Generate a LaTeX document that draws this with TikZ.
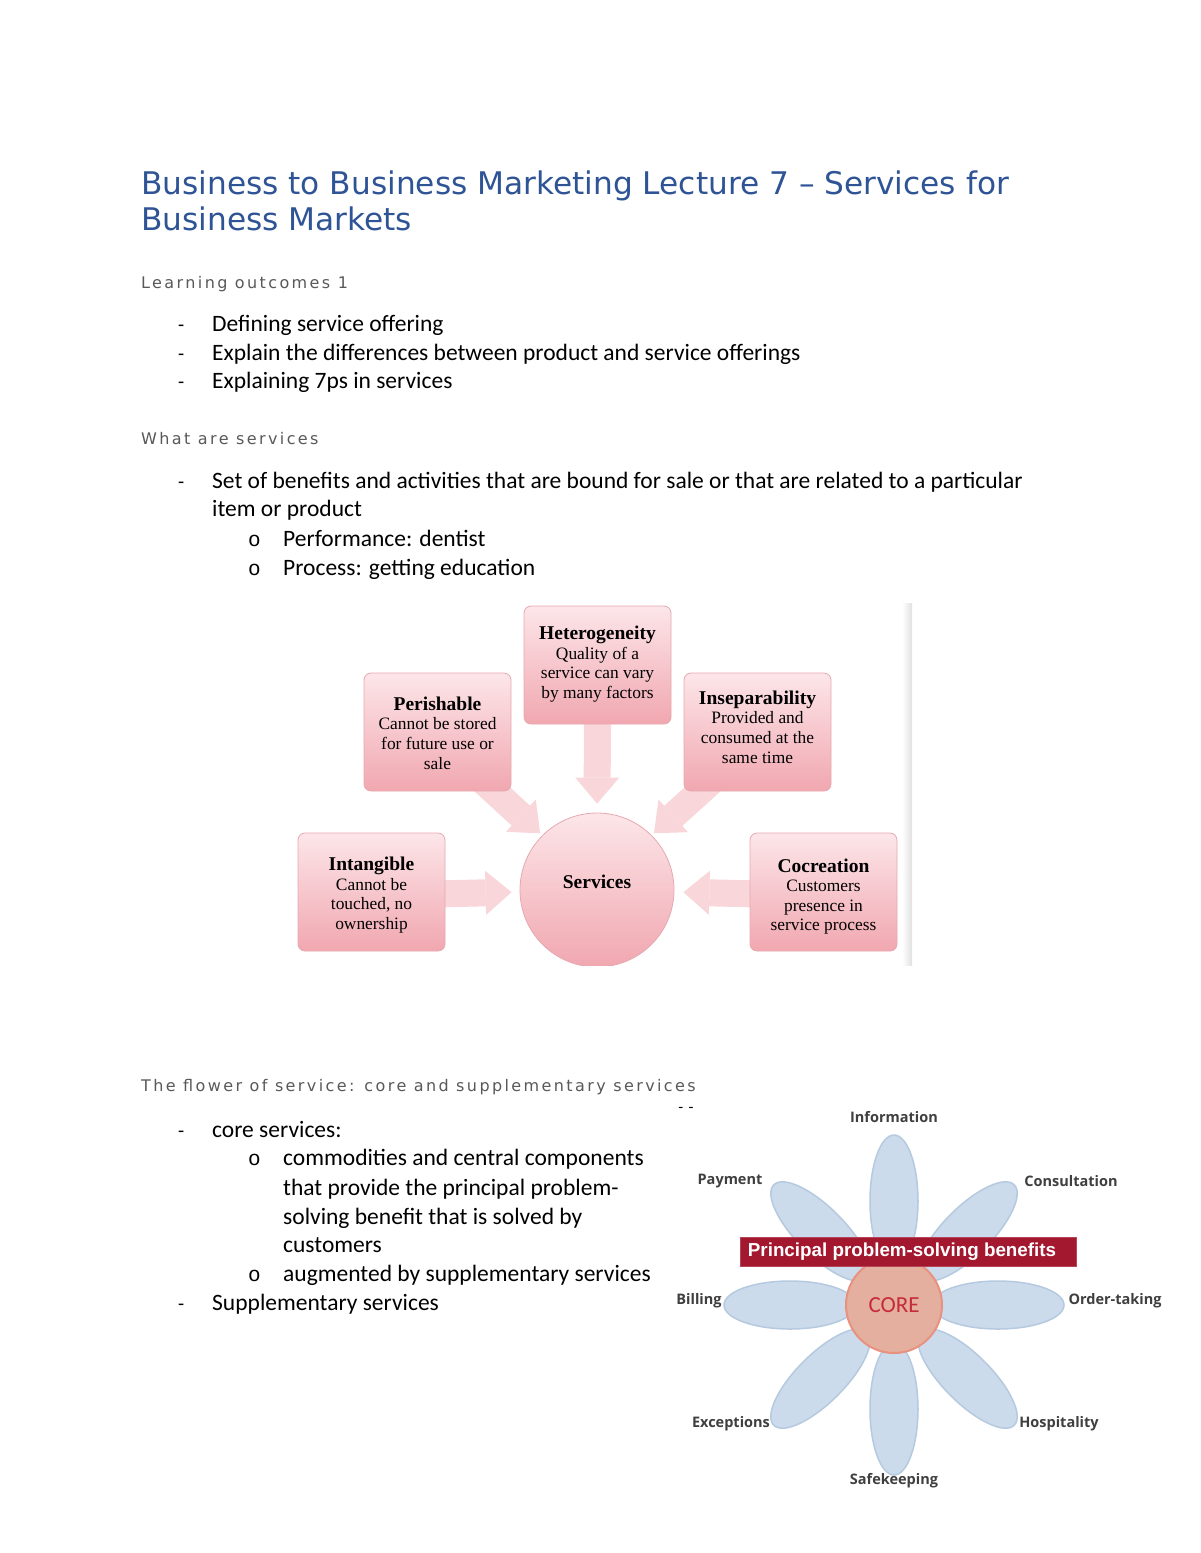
\documentclass[tikz,border=0pt]{standalone}
\usepackage{fontspec}
\setmainfont{Carlito}
\newfontfamily\titlefont{DejaVu Sans}
\newfontfamily\headfont[LetterSpace=15]{DejaVu Sans}
\newfontfamily\boxfont{Liberation Serif}
\newfontfamily\labfont{Open Sans}
\newfontfamily\banfont{Liberation Sans}
\newfontfamily\monofont{Liberation Mono}
\usetikzlibrary{arrows.meta,backgrounds}
\definecolor{titleblue}{HTML}{2F5496}
\definecolor{headgray}{HTML}{595959}
\definecolor{boxtop}{HTML}{FCE6E9}
\definecolor{boxbot}{HTML}{F1A7B0}
\definecolor{boxline}{HTML}{E6A9B0}
\definecolor{arrowpink}{HTML}{F8D6DA}
\definecolor{petalfill}{HTML}{CBDBEC}
\definecolor{petalline}{HTML}{B5C9DF}
\definecolor{corefill}{HTML}{E4AF9E}
\definecolor{coreline}{HTML}{E8917F}
\definecolor{corered}{HTML}{C62B38}
\definecolor{bannerred}{HTML}{A3182F}
\definecolor{labgray}{HTML}{3F3F3F}
\tikzset{
  title/.style={anchor=base west, inner sep=0pt, text=titleblue, font=\titlefont\fontsize{31.2}{36}\selectfont},
  head/.style={anchor=base west, inner sep=0pt, text=headgray, font=\headfont\fontsize{16}{19}\selectfont},
  bodyA/.style={anchor=base west, inner sep=0pt, font=\fontsize{23.5}{28}\selectfont},
  dashmark/.style={anchor=base west, inner sep=0pt, font=\fontsize{20}{24}\selectfont},
  omark/.style={anchor=base west, inner sep=0pt, font=\monofont\fontsize{21}{24}\selectfont},
  pbox/.style={draw=boxline, line width=0.8pt, rounded corners=7pt, top color=boxtop, bottom color=boxbot,
    minimum width=147pt, minimum height=118pt, inner sep=0pt},
  ptext/.style={align=center, inner sep=0pt, font=\boxfont\fontsize{17.4}{19.6}\selectfont},
  servcirc/.style={circle, draw=boxline, line width=0.8pt, top color=boxtop, bottom color=boxbot,
    minimum size=154pt, inner sep=0pt},
  fat/.style={draw=arrowpink, line width=27pt,
    -{Triangle[width=44pt,length=26pt,line width=0pt]}},
  petal/.style={fill=petalfill, draw=petalline, line width=1.5pt},
  flab/.style={inner sep=0pt, text=labgray, font=\labfont\bfseries\fontsize{14.5}{17}\selectfont},
}
\newcommand{\bt}[1]{{\fontsize{19.5}{19.6}\selectfont\bfseries #1}}
\begin{document}
\begin{tikzpicture}[x=1pt,y=-1pt]
\useasboundingbox (0,0) rectangle (1200,1553);
\begin{scope}[on background layer]
\fill[white] (0,0) rectangle (1200,1553);
\end{scope}

% ---------- Title and text ----------
\node[title] (t1) at (141,194) {Business to Business Marketing Lecture 7 – Services for};
\node[title] (t2) at (141,230) {Business Markets};

\node[head] (h1) at (141,288) {Learning outcomes 1};
\node[dashmark] (d1) at (178,331) {-};
\node[bodyA] (l1) at (212,331) {Defining service offering};
\node[dashmark] (d2) at (178,360) {-};
\node[bodyA] (l2) at (212,360) {Explain the differences between product and service offerings};
\node[dashmark] (d3) at (178,388) {-};
\node[bodyA] (l3) at (212,388) {Explaining 7ps in services};

\node[head] (h2) at (141,444) {What are services};
\node[dashmark] (d4) at (178,488) {-};
\node[bodyA] (l4) at (212,488) {Set of benefits and activities that are bound for sale or that are related to a particular};
\node[bodyA] (l5) at (212,516) {item or product};
\node[omark] (o1) at (248,546) {o};
\node[bodyA] (l6) at (283,546) {Performance: dentist};
\node[omark] (o2) at (248,575) {o};
\node[bodyA] (l7) at (283,575) {Process: getting education};

\node[head] (h3) at (141,1091) {The flower of service: core and supplementary services};
\node[dashmark] (d5) at (178,1137) {-};
\node[bodyA] (m1) at (212,1137) {core services:};
\node[omark] (o3) at (248,1165) {o};
\node[bodyA] (m2) at (283,1165) {commodities and central components};
\node[bodyA] (m3) at (283,1195) {that provide the principal problem-};
\node[bodyA] (m4) at (283,1224) {solving benefit that is solved by};
\node[bodyA] (m5) at (283,1252) {customers};
\node[omark] (o4) at (248,1281) {o};
\node[bodyA] (m6) at (283,1281) {augmented by supplementary services};
\node[dashmark] (d6) at (178,1310) {-};
\node[bodyA] (m7) at (212,1310) {Supplementary services};

% ---------- Services diagram ----------
\shade[left color=white, right color=black!12] (902,603) rectangle (912,965);
\node[pbox] (het) at (597.5,665) {};
\node[pbox] (per) at (437.5,732) {};
\node[pbox] (ins) at (757.5,732) {};
\node[pbox] (int) at (371.5,892) {};
\node[pbox] (coc) at (823.5,892) {};
\node[ptext] (hett) at ([yshift=1pt]het.center) {\bt{Heterogeneity}\\Quality of a\\service can vary\\by many factors};
\node[ptext] (pert) at ([yshift=-1pt]per.center) {\bt{Perishable}\\Cannot be stored\\for future use or\\sale};
\node[ptext] (inst) at ([yshift=5pt]ins.center) {\bt{Inseparability}\\Provided and\\consumed at the\\same time};
\node[ptext] (intt) at ([yshift=-3pt]int.center) {\bt{Intangible}\\Cannot be\\touched, no\\ownership};
\node[ptext] (coct) at ([yshift=-4.5pt]coc.center) {\bt{Cocreation}\\Customers\\presence in\\service process};
\begin{scope}
\clip (0,0) rectangle (1200,965);
\node[servcirc] (serv) at (597,890) {};
\end{scope}
\node[inner sep=0pt, font=\boxfont\bfseries\fontsize{19.5}{20}\selectfont] (servt) at ([yshift=8pt]serv.center) {Services};
\begin{scope}[on background layer]
\draw[fat, shorten >=9pt] ([yshift=10pt]het.south) -- (serv.north);
\draw[fat, shorten >=3pt] ([xshift=-30pt,yshift=12pt]per.south east) -- (serv.135);
\draw[fat, shorten >=3pt] ([xshift=30pt,yshift=12pt]ins.south west) -- (serv.45);
\draw[fat, shorten >=8pt] ([xshift=-10pt,yshift=-2pt]int.east) -- ([yshift=-2pt]serv.west);
\draw[fat, shorten >=9pt] ([xshift=10pt,yshift=-2pt]coc.west) -- ([yshift=-2pt]serv.east);
\end{scope}

% ---------- Flower of service ----------
\coordinate (fc) at (894,1305);
\foreach \a in {0,45,...,315} {
  \begin{scope}[shift={(fc)}, rotate=\a]
    \draw[petal] (104,0) ellipse [x radius=66, y radius=24];
  \end{scope}
}
\node[circle, fill=corefill, draw=coreline, line width=2pt, minimum size=96pt, inner sep=0pt,
  text=corered, font=\fontsize{23}{26}\selectfont] (core) at (fc) {CORE};
\node[fill=bannerred, draw=bannerred!80!white, line width=0.6pt, minimum width=336pt, minimum height=29pt, inner sep=0pt,
  text=white, font=\banfont\bfseries\fontsize{18.8}{21}\selectfont] (ban) at (908,1251.5) {\hspace*{-12pt}Principal problem-solving benefits};

\node[flab] (inf) at (894,1117) {Information};
\node[flab] (pay) at (730,1181) {Payment};
\node[flab] (con) at (1071,1181) {Consultation};
\node[flab] (bil) at (699,1301) {Billing};
\node[flab] (ord) at (1115,1301) {Order-taking};
\node[flab] (exc) at (731,1424) {Exceptions};
\node[flab] (hos) at (1059,1424) {Hospitality};
\node[flab] (saf) at (894,1481) {Safekeeping};
\node[inner sep=0pt, font=\fontsize{16}{18}\selectfont] (dd) at (686,1110) {-\,\,-};
\end{tikzpicture}
\end{document}
